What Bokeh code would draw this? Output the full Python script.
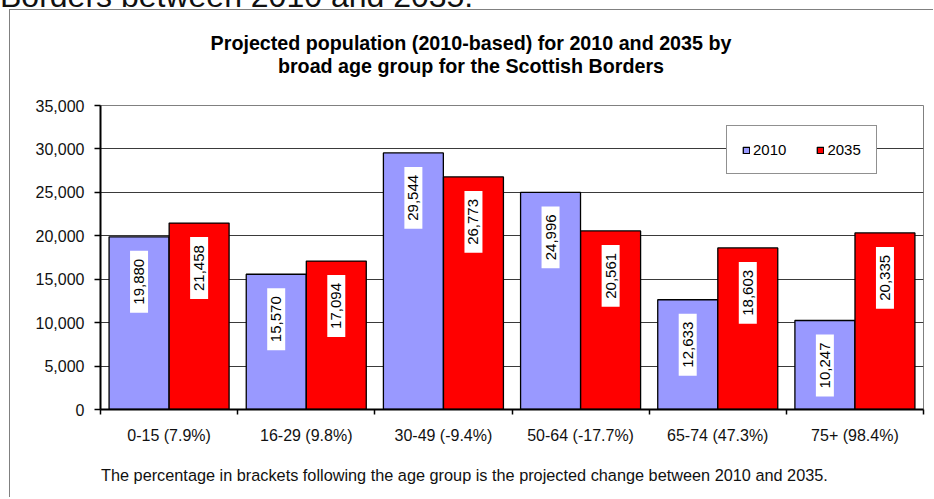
import numpy as np
from math import pi
from bokeh.plotting import figure
from bokeh.models import (ColumnDataSource, Range1d, FixedTicker, NumeralTickFormatter,
                          Legend, LegendItem, Div)
from bokeh.layouts import column
from bokeh.core.properties import value
from bokeh.embed import file_html
from bokeh.resources import INLINE

# ---- data ----
age_groups = ["0-15", "16-29", "30-49", "50-64", "65-74", "75+"]
pct_change = ["7.9%", "9.8%", "-9.4%", "-17.7%", "47.3%", "98.4%"]
pop_2010 = [19880, 15570, 29544, 24996, 12633, 10247]
pop_2035 = [21458, 17094, 26773, 20561, 18603, 20335]
series_names = ["2010", "2035"]
y_ticks = [0, 5000, 10000, 15000, 20000, 25000, 30000, 35000]
title_line1 = "Projected population (2010-based) for 2010 and 2035 by"
title_line2 = "broad age group for the Scottish Borders"
footnote = ("The percentage in brackets following the age group is the projected "
            "change between 2010 and 2035.")
heading = "Borders between 2010 and 2035."

FONT = "Liberation Sans"
n = len(age_groups)
centers = np.arange(n) + 0.5
tick_labels = [f"{g} ({c})" for g, c in zip(age_groups, pct_change)]

src = ColumnDataSource(dict(
    x10=centers - 0.219, x35=centers + 0.219,
    v10=pop_2010, v35=pop_2035,
    l10=[f"{v:,}" for v in pop_2010], l35=[f"{v:,}" for v in pop_2035],
))

W = 924
p = figure(width=W, height=352, x_range=Range1d(0, n), y_range=Range1d(0, 35000),
           output_backend="svg", toolbar_location=None, title=None,
           min_border_left=91, min_border_right=10, min_border_top=8, min_border_bottom=40)
p.border_fill_alpha = 0
p.background_fill_color = "white"
p.outline_line_color = "#808080"

p.xgrid.visible = False
p.ygrid.ticker = FixedTicker(ticks=y_ticks)
p.ygrid.grid_line_color = "#3a3a3a"
p.ygrid.grid_line_width = 1

# y axis
yax = p.yaxis[0]
yax.ticker = FixedTicker(ticks=y_ticks)
yax.formatter = NumeralTickFormatter(format="0,0")
yax.major_tick_out = 6
yax.major_tick_in = 0
yax.minor_tick_out = 0
yax.minor_tick_in = 0
yax.axis_line_width = 2
yax.axis_line_color = "black"
yax.major_tick_line_color = "black"
yax.major_tick_line_width = 1.5
yax.major_label_standoff = 10
yax.major_label_text_font = FONT
yax.major_label_text_font_size = "16px"
yax.major_label_text_color = "#111111"

# x axis
xax = p.xaxis[0]
xax.ticker = FixedTicker(ticks=list(centers), minor_ticks=list(range(n + 1)))
xax.major_label_overrides = {float(c): lab for c, lab in zip(centers, tick_labels)}
xax.major_tick_out = 0
xax.major_tick_in = 0
xax.minor_tick_out = 5
xax.minor_tick_in = 0
xax.minor_tick_line_color = "black"
xax.minor_tick_line_width = 1.5
xax.axis_line_width = 2
xax.axis_line_color = "black"
xax.major_label_standoff = 12
xax.major_label_text_font = FONT
xax.major_label_text_font_size = "16px"
xax.major_label_text_color = "#111111"

# bars
r10 = p.vbar(x="x10", top="v10", bottom=0, width=0.437, source=src,
             fill_color="#9999FF", line_color="black", line_width=1.3)
r35 = p.vbar(x="x35", top="v35", bottom=0, width=0.437, source=src,
             fill_color="#FF0000", line_color="black", line_width=1.3)

# data labels
for xcol, vcol, lcol in (("x10", "v10", "l10"), ("x35", "v35", "l35")):
    p.text(x=xcol, y=vcol, text=lcol, source=src, angle=pi / 2,
           text_align="right", text_baseline="middle", y_offset=14,
           text_font=value(FONT), text_font_size="15px", text_color="black",
           background_fill_color="white",
           padding=dict(left=8, right=8, top=4, bottom=4))

# legend
legend = Legend(items=[LegendItem(label=series_names[0], renderers=[r10]),
                       LegendItem(label=series_names[1], renderers=[r35])],
                orientation="horizontal", location=(626, 235),
                glyph_width=8, glyph_height=8, label_standoff=3, spacing=30,
                padding=15, margin=0, label_height=14,
                label_text_font=FONT, label_text_font_size="15px",
                label_text_color="black",
                border_line_color="#222222", border_line_width=1,
                background_fill_color="white", background_fill_alpha=1)
p.add_layout(legend)

title_div = Div(
    text=(f'<div style="width:900px; padding-left:24px; text-align:center; '
          f'font-family:\'{FONT}\'; font-weight:bold; font-size:19.7px; line-height:23px; '
          f'padding-top:23px; color:#000;">{title_line1}<br>{title_line2}</div>'),
    width=W, height=88, margin=0, styles={"overflow": "hidden"})

foot_div = Div(
    text=(f'<div style="font-family:\'{FONT}\'; font-size:16.3px; line-height:20px; '
          f'padding-top:16px; padding-left:92px; white-space:nowrap; color:#111;">'
          f'{footnote}</div>'),
    width=W, height=48, margin=0, styles={"overflow": "hidden"})

body = column(title_div, p, foot_div, spacing=0, margin=(0, 0, 0, 9),
              styles={"box-shadow": "inset 1px 1px 0 0 #808080"})

head = Div(text=(f'<div style="position:relative; top:-17px; font-family:\'{FONT}\'; '
                 f'font-size:32px; line-height:26px; white-space:nowrap; color:#111;">'
                 f'{heading}</div>'),
           width=W + 9, height=9, margin=0, styles={"overflow": "hidden"})

layout = column(head, body, spacing=0, styles={"overflow": "hidden"})
open("out.html", "w").write(file_html(layout, INLINE))
